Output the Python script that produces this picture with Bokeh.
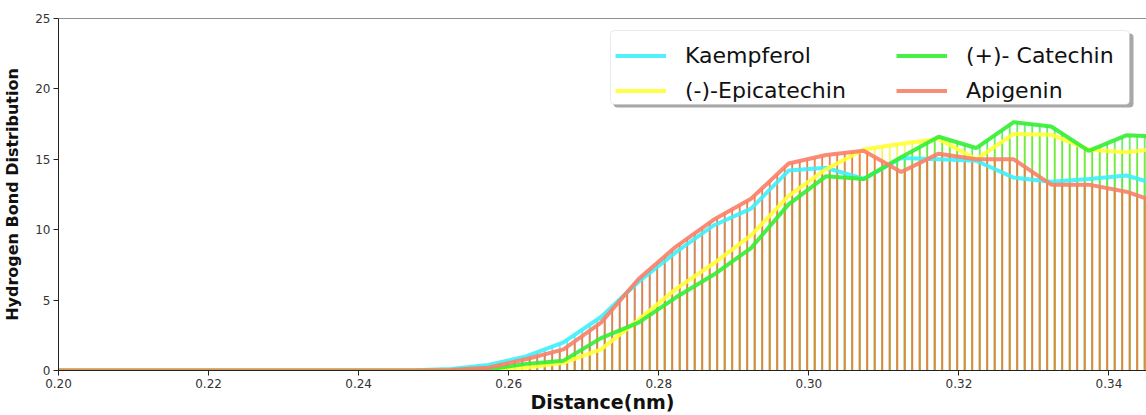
from bokeh.plotting import figure
from bokeh.models import (Legend, LegendItem, FixedTicker, PrintfTickFormatter,
                          Span, BoxAnnotation, ColumnDataSource)
from bokeh.embed import file_html
from bokeh.resources import INLINE

# distance (nm) of each histogram point
distance = [0.1973, 0.2023, 0.2073, 0.2123, 0.2173, 0.2223, 0.2273, 0.2323,
            0.2373, 0.2423, 0.2473, 0.2523, 0.2573, 0.2623, 0.2673, 0.2723,
            0.2773, 0.2823, 0.2873, 0.2923, 0.2973, 0.3023, 0.3073, 0.3123,
            0.3173, 0.3223, 0.3273, 0.3323, 0.3373, 0.3423, 0.3473]

kaempferol = [0, 0, 0, 0, 0, 0, 0, 0, 0, 0,
              0.02, 0.1, 0.4, 1.0, 2.0, 3.8, 6.3, 8.4, 10.3, 11.5, 14.2,
              14.4, 13.6, 15.1, 15.0, 14.9, 13.7, 13.4, 13.6, 13.85, 13.1]
epicatechin = [0, 0, 0, 0, 0, 0, 0, 0, 0, 0,
               0, 0, 0.03, 0.2, 0.55, 1.5, 3.6, 5.8, 7.6, 9.6, 12.4,
               14.3, 15.7, 16.1, 16.45, 15.0, 16.8, 16.75, 15.7, 15.5, 15.8]
catechin = [0, 0, 0, 0, 0, 0, 0, 0, 0, 0,
            0, 0.01, 0.08, 0.47, 0.7, 2.3, 3.4, 5.2, 6.8, 8.7, 11.8,
            13.8, 13.6, 15.15, 16.6, 15.8, 17.64, 17.33, 15.6, 16.7, 16.6]
apigenin = [0, 0, 0, 0, 0, 0, 0, 0, 0, 0,
            0, 0.03, 0.2, 0.8, 1.5, 3.4, 6.5, 8.8, 10.7, 12.2, 14.7,
            15.3, 15.6, 14.1, 15.4, 15.0, 15.0, 13.2, 13.2, 12.7, 11.8]
baseline = [0] * len(distance)

names = ["Kaempferol", "(-)-Epicatechin", "(+)- Catechin", "Apigenin"]
series = [kaempferol, epicatechin, catechin, apigenin]
line_colors = ["#3FF0F8", "#FFFF33", "#33EE33", "#FA7F68"]
hatch_colors = ["#33E8F0", "#F2F230", "#38E838", "#EE7C42"]
hatch_alphas = [0.9, 0.9, 0.9, 1.0]
hatch_weights = [1.5, 1.5, 1.5, 1.8]

x_ticks = [0.20, 0.22, 0.24, 0.26, 0.28, 0.30, 0.32, 0.34]
y_ticks = [0, 5, 10, 15, 20, 25]

p = figure(width=1146, height=415, x_range=(0.2, 0.345), y_range=(0, 25),
           output_backend="svg", toolbar_location=None,
           min_border_top=18, min_border_right=0, min_border_bottom=0,
           min_border_left=4)
p.outline_line_color = None
p.xgrid.visible = False
p.ygrid.visible = False
p.background_fill_color = "white"

# hatched areas (drop lines)
for vals, hc, ha, hw in zip(series, hatch_colors, hatch_alphas, hatch_weights):
    src = ColumnDataSource(dict(x=distance, y1=baseline, y2=vals))
    p.varea(x="x", y1="y1", y2="y2", source=src, fill_color=None,
            hatch_pattern="|", hatch_color=hc, hatch_scale=7.5,
            hatch_weight=hw, hatch_alpha=ha)

renderers = []
for vals, lc in zip(series, line_colors):
    r = p.line(distance, vals, line_width=4, line_color=lc, line_alpha=0.9)
    renderers.append(r)

p.add_layout(Span(location=25, dimension="width", line_color="#222222",
                  line_width=1))

for ax in (p.xaxis[0], p.yaxis[0]):
    ax.axis_line_color = "#222222"
    ax.major_tick_line_color = "#222222"
    ax.minor_tick_line_color = None
    ax.major_tick_in = 0
    ax.major_tick_out = 5
    ax.major_label_text_font = "DejaVu Sans"
    ax.major_label_text_font_size = "12px"
    ax.major_label_text_color = "#333333"
    ax.axis_label_text_font = "DejaVu Sans"
    ax.axis_label_text_font_style = "bold"
    ax.axis_label_text_color = "#111111"

p.xaxis.ticker = FixedTicker(ticks=x_ticks)
p.xaxis.formatter = PrintfTickFormatter(format="%.2f")
p.yaxis.ticker = FixedTicker(ticks=y_ticks)
p.yaxis.formatter = PrintfTickFormatter(format="%d")
p.xaxis.axis_label = "Distance(nm)"
p.yaxis.axis_label = "Hydrogen Bond Distribution"
p.xaxis.axis_label_text_font_size = "19px"
p.yaxis.axis_label_text_font_size = "16px"
p.xaxis.major_label_standoff = 3
p.xaxis.axis_label_standoff = 0
p.yaxis.major_label_standoff = 3
p.yaxis.axis_label_standoff = 10

# legend shadow and frame
shadow = BoxAnnotation(left=555, right=1075, bottom=263, top=337,
                       left_units="screen", right_units="screen",
                       top_units="screen", bottom_units="screen",
                       fill_color="#8A8A8A", fill_alpha=0.75, line_color=None,
                       border_radius=4)
p.add_layout(shadow)
box = BoxAnnotation(left=552, right=1071, bottom=266, top=340,
                    left_units="screen", right_units="screen",
                    top_units="screen", bottom_units="screen",
                    fill_color="white", fill_alpha=1.0, line_color="#BBBBBB",
                    line_width=1, border_radius=4)
p.add_layout(box)

common = dict(orientation="vertical", glyph_width=51, glyph_height=27,
              label_height=27, label_standoff=19, spacing=8, padding=6,
              label_text_font="DejaVu Sans", label_text_font_size="22px",
              label_text_color="#111111", border_line_color=None,
              background_fill_alpha=0.0)
items1 = [LegendItem(label=names[i], renderers=[renderers[i]]) for i in (0, 1)]
items2 = [LegendItem(label=names[i], renderers=[renderers[i]]) for i in (2, 3)]
leg1 = Legend(items=items1, location=(557, 266), **common)
leg2 = Legend(items=items2, location=(838, 266), **common)
p.add_layout(leg1)
p.add_layout(leg2)

open("out.html", "w").write(file_html(p, INLINE))
